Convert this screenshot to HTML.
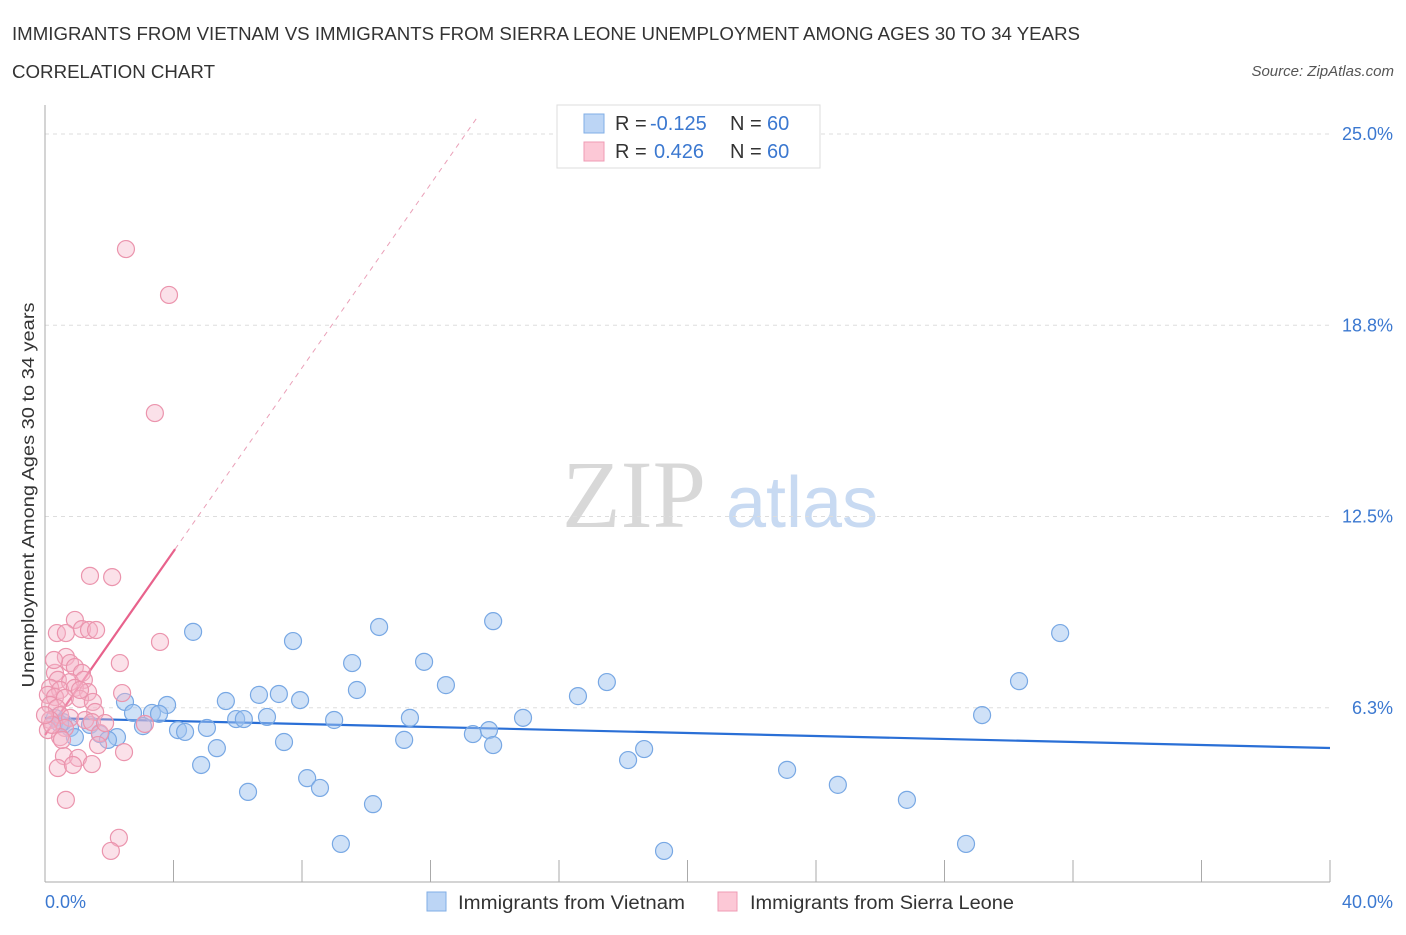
<!DOCTYPE html>
<html><head><meta charset="utf-8"><style>
body{margin:0;background:#fff;font-family:"Liberation Sans",sans-serif}
</style></head><body>
<svg id="c" width="1406" height="930" viewBox="0 0 1406 930" xmlns="http://www.w3.org/2000/svg">
<text x="12" y="40" font-size="18" fill="#333" textLength="1068" lengthAdjust="spacingAndGlyphs">IMMIGRANTS FROM VIETNAM VS IMMIGRANTS FROM SIERRA LEONE UNEMPLOYMENT AMONG AGES 30 TO 34 YEARS</text>
<text x="12" y="78" font-size="18" fill="#333" textLength="203" lengthAdjust="spacingAndGlyphs">CORRELATION CHART</text>
<text x="1394" y="76" font-size="15" fill="#555" font-style="italic" text-anchor="end">Source: ZipAtlas.com</text>
<text x="634" y="527" font-size="96" fill="#d8d8d8" font-family="Liberation Serif,serif" text-anchor="middle">ZIP</text>
<text x="802" y="527" font-size="72" fill="#c8daf2" text-anchor="middle">atlas</text>
<g id="grid"></g><g id="axes"></g><g id="trend"></g><g id="pts"></g>
<text transform="translate(34,495) rotate(-90)" font-size="17.5" fill="#333" text-anchor="middle" textLength="385" lengthAdjust="spacingAndGlyphs">Unemployment Among Ages 30 to 34 years</text>
<text x="45" y="908" font-size="18" fill="#3b78d0">0.0%</text>
<text x="1393" y="908" font-size="18" fill="#3b78d0" text-anchor="end">40.0%</text>
<g>
<rect x="557" y="105" width="263" height="63" fill="#fff" stroke="#ddd"/>
<rect x="584" y="114" width="20" height="19" fill="#bcd5f5" stroke="#80aee6"/>
<rect x="584" y="142" width="20" height="19" fill="#fcc8d6" stroke="#ef9bb4"/>
<text x="615" y="130" font-size="20" fill="#333">R = <tspan fill="#3b78d0" x="650">-0.125</tspan><tspan x="730">N = </tspan><tspan fill="#3b78d0" x="767">60</tspan></text>
<text x="615" y="158" font-size="20" fill="#333">R = <tspan fill="#3b78d0" x="654">0.426</tspan><tspan x="730">N = </tspan><tspan fill="#3b78d0" x="767">60</tspan></text>
</g>
<g>
<rect x="427" y="892" width="19" height="19" fill="#bcd5f5" stroke="#80aee6"/>
<text x="458" y="909" font-size="19" fill="#333" textLength="227" lengthAdjust="spacingAndGlyphs">Immigrants from Vietnam</text>
<rect x="718" y="892" width="19" height="19" fill="#fcc8d6" stroke="#ef9bb4"/>
<text x="750" y="909" font-size="19" fill="#333" textLength="264" lengthAdjust="spacingAndGlyphs">Immigrants from Sierra Leone</text>
</g>
</svg>
<script>
const yTicks=[25,18.75,12.5,6.25];
const yTickLabels=["25.0%","18.8%","12.5%","6.3%"];
const xTicks=[4,8,12,16,20,24,28,32,36,40];
const blueX=[4.61,7.72,10.40,13.95,31.60,9.56,11.80,5.63,6.66,7.28,7.94,9.71,12.48,16.59,17.49,30.32,2.49,3.80,2.74,3.33,3.55,5.95,6.19,6.91,9.00,11.36,14.88,29.17,4.14,4.36,5.04,3.05,13.32,13.82,0.31,0.56,0.78,1.40,1.71,0.93,2.24,1.96,5.35,7.44,11.18,13.95,18.65,18.15,4.86,8.16,8.56,23.10,24.68,6.32,10.21,26.83,9.21,28.67,19.27,0.47];
const blueY=[8.73,8.43,8.89,9.08,8.69,7.71,7.75,6.47,6.67,6.70,6.50,6.83,6.99,6.63,7.09,7.12,6.44,6.34,6.08,6.08,6.05,5.88,5.88,5.95,5.85,5.92,5.92,6.01,5.52,5.46,5.59,5.65,5.39,5.52,5.92,5.78,5.59,5.69,5.39,5.29,5.29,5.20,4.93,5.13,5.20,5.03,4.90,4.54,4.38,3.95,3.63,4.22,3.73,3.50,3.10,3.24,1.80,1.80,1.57,5.72];
const pinkX=[2.52,3.86,3.42,1.40,2.09,0.93,0.37,0.65,1.15,1.37,1.59,3.58,0.65,0.78,2.33,0.93,0.31,1.15,0.40,0.78,1.21,0.16,0.47,0.93,1.34,2.40,0.09,0.31,0.62,1.09,1.49,0.16,0.37,1.56,0.47,0.78,0.16,1.25,1.46,3.11,0.62,0.09,1.71,0.47,1.65,2.46,0.59,1.03,1.46,0.40,0.87,0.65,2.30,2.05,0.22,0.53,1.09,1.87,0.00,0.28];
const pinkY=[21.24,19.74,15.88,10.56,10.52,9.12,8.69,8.69,8.82,8.79,8.79,8.40,7.91,7.71,7.71,7.58,7.39,7.39,7.16,7.09,7.16,6.90,6.83,6.90,6.76,6.73,6.67,6.60,6.57,6.54,6.44,6.34,6.24,6.11,6.01,5.92,5.85,5.85,5.78,5.72,5.59,5.52,5.42,5.29,5.03,4.80,4.67,4.61,4.41,4.28,4.38,3.24,2.00,1.57,5.69,5.20,6.83,5.75,6.01,7.81];
const blueTrend=[5.915,-0.0245];
const pinkTrend=[5.36,1.5];
const pinkSolidEnd=4.05;
const X=v=>45+v*32.125, Y=v=>134+(25-v)*30.6;
const NS='http://www.w3.org/2000/svg';
function mk(parent,tag,attrs){const e=document.createElementNS(NS,tag);for(const k in attrs)e.setAttribute(k,attrs[k]);document.getElementById(parent).appendChild(e);return e;}
yTicks.forEach((t,i)=>{
 const l=mk('grid','line',{x1:45,x2:1330,y1:Y(t),y2:Y(t),stroke:'#ddd','stroke-dasharray':'4 4'});
 
 
 const tx=mk('grid','text',{x:1393,y:Y(t)+6,'font-size':18,fill:'#3b78d0','text-anchor':'end'});
 tx.textContent=yTickLabels[i];
 
 
});
const ax=mk('axes','line',{x1:45,x2:45,y1:105,y2:882,stroke:'#aaa'});


const bx=mk('axes','line',{x1:45,x2:1330,y1:882,y2:882,stroke:'#aaa'});


xTicks.forEach(t=>{
 const l=mk('axes','line',{x1:X(t),x2:X(t),y1:860,y2:882,stroke:'#aaa'});
 
 
});
const bt=mk('trend','line',{x1:X(0),y1:Y(blueTrend[0]),x2:X(40),y2:Y(blueTrend[0]+blueTrend[1]*40),stroke:'#2a6fd6','stroke-width':2.2});


const pe=(25.5-pinkTrend[0])/pinkTrend[1];
const pd=mk('trend','line',{x1:X(pinkSolidEnd),y1:Y(pinkTrend[0]+pinkTrend[1]*pinkSolidEnd),x2:X(pe),y2:Y(25.5),stroke:'#eaa0b8','stroke-width':1,'stroke-dasharray':'5 5'});


const ps=mk('trend','line',{x1:X(0),y1:Y(pinkTrend[0]),x2:X(pinkSolidEnd),y2:Y(pinkTrend[0]+pinkTrend[1]*pinkSolidEnd),stroke:'#e8628c','stroke-width':2.2});


blueX.forEach((x,i)=>{
 const c=mk('pts','circle',{cx:X(x),cy:Y(blueY[i]),r:8.5,fill:'rgba(160,196,240,0.5)',stroke:'#78a8e4','stroke-width':1.2});
 
 
});
pinkX.forEach((x,i)=>{
 const c=mk('pts','circle',{cx:X(x),cy:Y(pinkY[i]),r:8.5,fill:'rgba(246,180,200,0.4)',stroke:'#eb94ad','stroke-width':1.2});
 
 
});
</script>
</body></html>
